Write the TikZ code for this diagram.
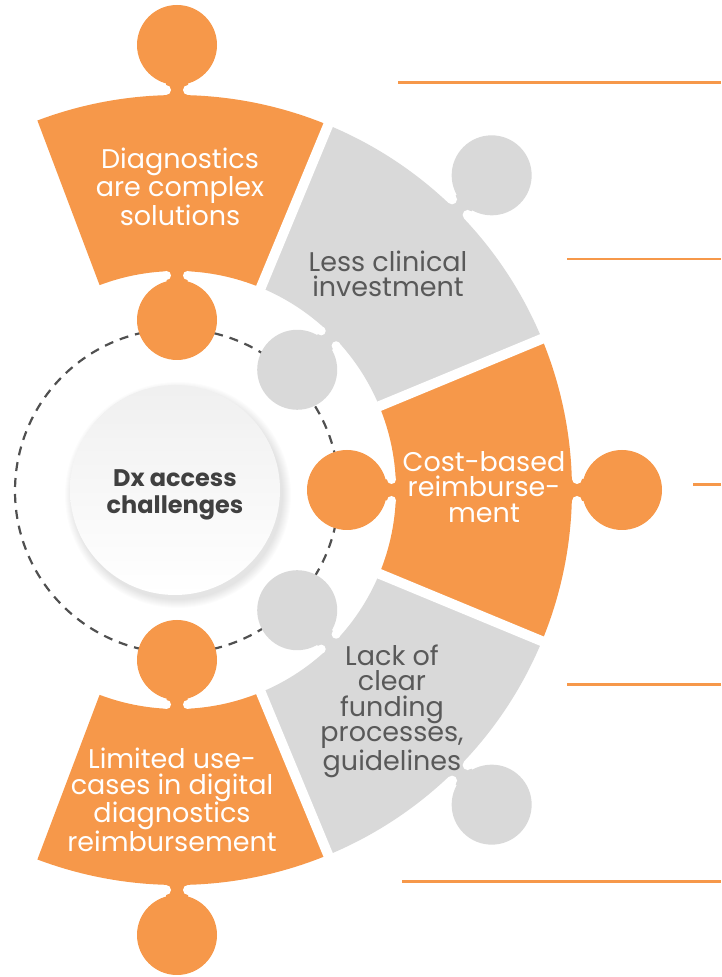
\documentclass[tikz,border=0pt]{standalone}
\usepackage{fontspec}
\setmainfont{Poppins}
\usepackage{xcolor}
\usepackage{tikz}
\usetikzlibrary{positioning}

\definecolor{dxorange}{HTML}{F6984A}
\definecolor{dxgrey}{HTML}{D9D9D9}
\definecolor{dxtext}{HTML}{595959}
\definecolor{dxdark}{HTML}{404040}
\definecolor{dxdash}{HTML}{505050}

\begin{document}
\begin{tikzpicture}[x=1pt, y=1pt]
        % Define styles
        \tikzset{
            seglabel/.style={align=center, font=\fontsize{27}{25.5}\selectfont},
            onorange/.style={seglabel, text=white},
            ongrey/.style={seglabel, text=dxtext},
            gapline/.style={white, line width=10pt},
            guide/.style={dxorange, line width=2.5pt},
            dashring/.style={dxdash, line width=2.2pt, dash pattern=on 9pt off 7pt}
        }
        \useasboundingbox (0,0) rectangle (721,977);

        % Dashed ring behind the inner knobs
        \draw[dashring] (177,486) circle[radius=162];

        % Ring segments with their knobs
        \begin{scope}[shift={(177,487)}]
            \foreach \a/\s/\e/\col in {90/67.5/110.7/dxorange,45/22.5/67.5/dxgrey,0/-22.5/22.5/dxorange,
                                       -45/-67.5/-22.5/dxgrey,-90/-110.7/-67.5/dxorange}{
                \fill[\col] (\s:219) -- (\s:395)
                    arc[start angle=\s, end angle=\e, radius=395]
                    -- (\e:219)
                    arc[start angle=\e, end angle=\s, radius=219] -- cycle;
                \begin{scope}[rotate=\a]
                    \fill[\col] (170,0) circle[radius=40] (445,0) circle[radius=40];
                    \fill[\col] (208,-10.5) rectangle (221,10.5) (392,-11) rectangle (407,11);
                    \fill[white] (214.5,10.5) circle[radius=4.5] (214.5,-10.5) circle[radius=4.5]
                        (400,11) circle[radius=5] (400,-11) circle[radius=5];
                \end{scope}
            }
            \foreach \b in {67.5,22.5,-22.5,-67.5}
                \draw[gapline] (\b:200) -- (\b:405);
        \end{scope}

        % Centre disc with soft shadow
        \foreach \i in {1,...,9}
            \fill[black, opacity=0.012] (178,482) circle[radius=104+\i];
        \node[circle, minimum size=210pt, inner sep=0pt, top color=black!6, bottom color=white]
              (dx) at (175,487) {};
        \node[font=\bfseries\fontsize{24}{27}\selectfont, text=dxdark, align=center]
              (dxlabel) at ([yshift=-5pt]dx.center) {Dx access\\challenges};

        % Create nodes
        \node[onorange] (diag) at (180,790) {Diagnostics\\are complex\\solutions};
        \node[ongrey] (clin) at (388,703) {Less clinical\\investment};
        \node[onorange] (cost) at (484,490) {Cost-based\\reimburse-\\ment};
        \node[ongrey] (fund) at (392,266) {Lack of\\clear\\funding\\processes,\\guidelines};
        \node[onorange] (usecase) at (172,177) {Limited use-\\cases in digital\\diagnostics\\reimbursement};

        % Guide lines on the right
        \coordinate (g1a) at (398,894.7);  \coordinate (g1b) at (721,894.7);
        \coordinate (g2a) at (567,718);    \coordinate (g2b) at (721,718);
        \coordinate (g3a) at (693,492.3);  \coordinate (g3b) at (721,492.3);
        \coordinate (g4a) at (567,292.7);  \coordinate (g4b) at (721,292.7);
        \coordinate (g5a) at (402,95.3);   \coordinate (g5b) at (721,95.3);
        \draw[guide] (g1a) -- (g1b);
        \draw[guide] (g2a) -- (g2b);
        \draw[guide] (g3a) -- (g3b);
        \draw[guide] (g4a) -- (g4b);
        \draw[guide] (g5a) -- (g5b);
    \end{tikzpicture}
\end{document}
